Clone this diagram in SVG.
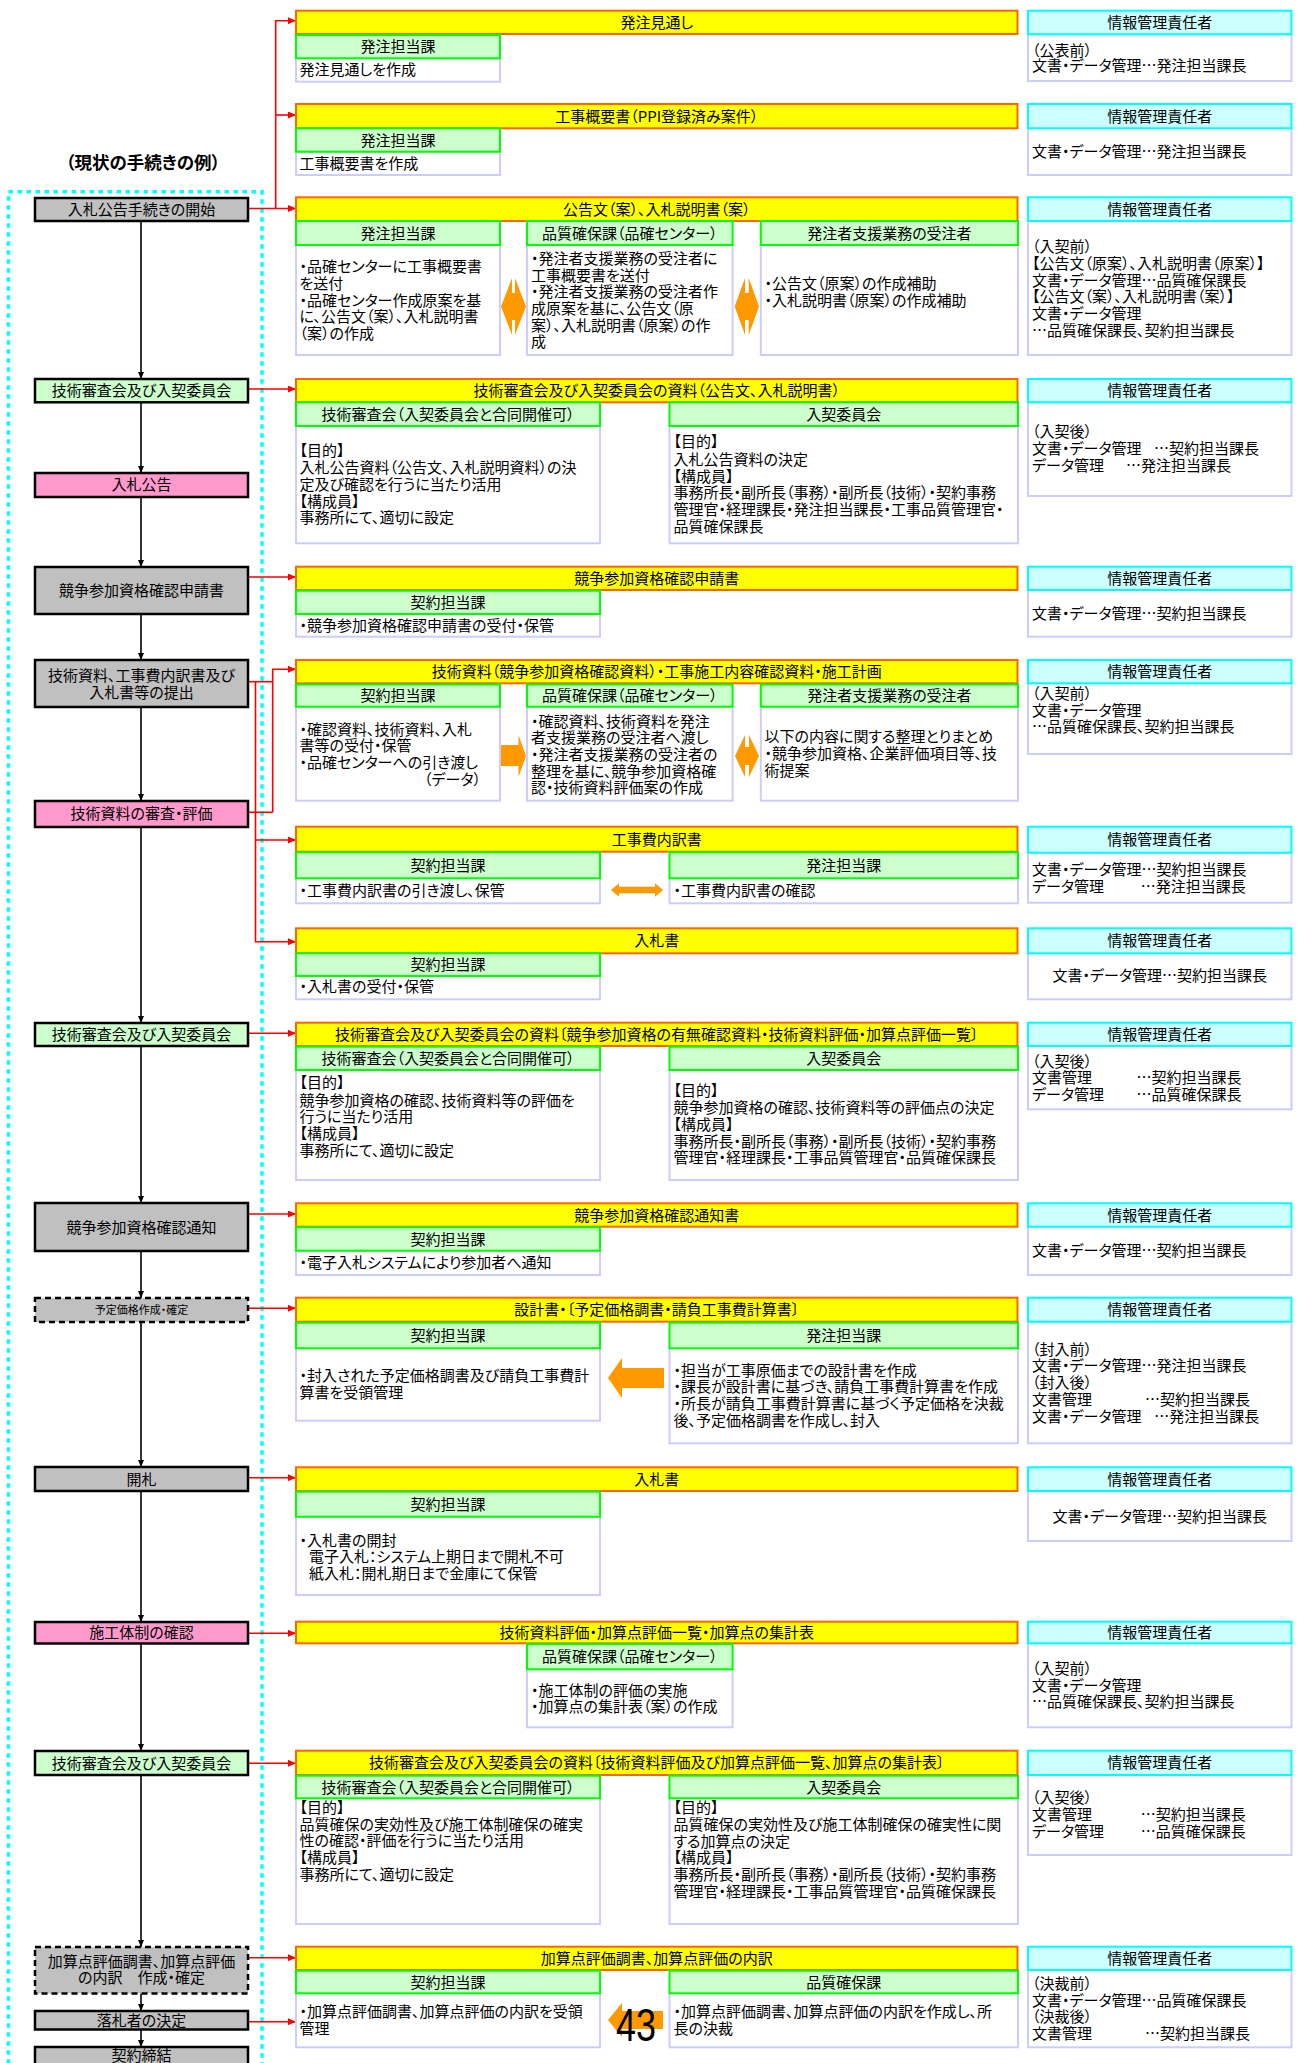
<svg xmlns="http://www.w3.org/2000/svg" width="1303" height="2063" viewBox="0 0 1303 2063">
<style>
.y{fill:#FFFF00;stroke:#FF6600;stroke-width:2}
.g{fill:#CCFFCC;stroke:#00FF00;stroke-width:2}
.w{fill:#FFFFFF;stroke:#CCCCFF;stroke-width:2}
.c{fill:#CCFFFF;stroke:#00FFFF;stroke-width:2}
.ng{fill:#C0C0C0;stroke:#000;stroke-width:2.5}
.nl{fill:#CCFFCC;stroke:#000;stroke-width:2.5}
.np{fill:#FF99CC;stroke:#000;stroke-width:2.5}
.nd{fill:#C0C0C0;stroke:#000;stroke-width:2.5;stroke-dasharray:6 4}
.o{fill:#FF9900}
text{font-family:"Noto Sans CJK JP","Noto Sans CJK SC",sans-serif;font-size:15px;fill:#000;font-feature-settings:"palt"}
.m{text-anchor:middle}
.e{text-anchor:end}
.r{stroke:#FF0000;stroke-width:1.6;fill:none}
.k{stroke:#000;stroke-width:1.6;fill:none}
</style>
<defs>
<marker id="ra" markerUnits="userSpaceOnUse" markerWidth="8" markerHeight="7" refX="8" refY="3.5" orient="auto"><path d="M0,0 L8,3.5 L0,7 z" fill="#FF0000"/></marker>
<marker id="ka" markerUnits="userSpaceOnUse" markerWidth="7" markerHeight="6" refX="7" refY="3" orient="auto"><path d="M0,0 L7,3 L0,6 z" fill="#000"/></marker>
</defs>
<rect width="1303" height="2063" fill="#FFFFFF"/>

<text x="143" y="169" class="m" style="font-weight:bold;font-size:17.5px">（現状の手続きの例）</text>
<rect x="8.5" y="191.7" width="253.5" height="1920" fill="none" stroke="#00FFFF" stroke-width="3.5" stroke-dasharray="4.5 4.5"/>

<g id="connectors">
<line class="k" x1="141" y1="221" x2="141" y2="379" marker-end="url(#ka)"/>
<line class="k" x1="141" y1="402.5" x2="141" y2="473" marker-end="url(#ka)"/>
<line class="k" x1="141" y1="497" x2="141" y2="567" marker-end="url(#ka)"/>
<line class="k" x1="141" y1="614" x2="141" y2="660" marker-end="url(#ka)"/>
<line class="k" x1="141" y1="707" x2="141" y2="801" marker-end="url(#ka)"/>
<line class="k" x1="141" y1="827" x2="141" y2="1023" marker-end="url(#ka)"/>
<line class="k" x1="141" y1="1046" x2="141" y2="1203" marker-end="url(#ka)"/>
<line class="k" x1="141" y1="1251" x2="141" y2="1298" marker-end="url(#ka)"/>
<line class="k" x1="141" y1="1322" x2="141" y2="1467" marker-end="url(#ka)"/>
<line class="k" x1="141" y1="1491" x2="141" y2="1622" marker-end="url(#ka)"/>
<line class="k" x1="141" y1="1643.5" x2="141" y2="1751" marker-end="url(#ka)"/>
<line class="k" x1="141" y1="1775" x2="141" y2="1947" marker-end="url(#ka)"/>
<line class="k" x1="141" y1="1993.5" x2="141" y2="2011" marker-end="url(#ka)"/>
<line class="k" x1="141" y1="2029.5" x2="141" y2="2047" marker-end="url(#ka)"/>

<line class="r" x1="248" y1="208.5" x2="296" y2="208.5" marker-end="url(#ra)"/>
<polyline class="r" points="275.7,208.5 275.7,20.7 296,20.7" marker-end="url(#ra)"/>
<line class="r" x1="275.7" y1="115" x2="296" y2="115" marker-end="url(#ra)"/>
<line class="r" x1="248" y1="389" x2="296" y2="389" marker-end="url(#ra)"/>
<line class="r" x1="248" y1="577" x2="296" y2="577" marker-end="url(#ra)"/>
<line class="r" x1="248" y1="681.7" x2="272.7" y2="681.7"/>
<polyline class="r" points="272.7,812.3 272.7,669.3 296,669.3" marker-end="url(#ra)"/>
<line class="r" x1="248" y1="812.3" x2="272.7" y2="812.3"/>
<polyline class="r" points="255.5,681.7 255.5,941.7 296,941.7" marker-end="url(#ra)"/>
<line class="r" x1="255.5" y1="840" x2="296" y2="840" marker-end="url(#ra)"/>
<line class="r" x1="248" y1="1033.3" x2="296" y2="1033.3" marker-end="url(#ra)"/>
<line class="r" x1="248" y1="1214" x2="296" y2="1214" marker-end="url(#ra)"/>
<line class="r" x1="248" y1="1308.3" x2="296" y2="1308.3" marker-end="url(#ra)"/>
<line class="r" x1="248" y1="1477.7" x2="296" y2="1477.7" marker-end="url(#ra)"/>
<line class="r" x1="248" y1="1633.3" x2="296" y2="1633.3" marker-end="url(#ra)"/>
<line class="r" x1="248" y1="1763.3" x2="296" y2="1763.3" marker-end="url(#ra)"/>
<line class="r" x1="248" y1="1957.7" x2="296" y2="1957.7" marker-end="url(#ra)"/>
<line class="r" x1="248" y1="2021.7" x2="296" y2="2021.7" marker-end="url(#ra)"/>
</g>

<g id="node-start"><rect class="ng" x="35" y="198" width="213" height="23"/><text class="m" x="141.5" y="215">入札公告手続きの開始</text></g>
<g id="node-shinsa1"><rect class="nl" x="35" y="379" width="213" height="23.3"/><text class="m" x="141.5" y="396.2">技術審査会及び入契委員会</text></g>
<g id="node-koukoku"><rect class="np" x="35" y="473" width="213" height="24"/><text class="m" x="141.5" y="490.2">入札公告</text></g>
<g id="node-shinsei"><rect class="ng" x="35" y="567" width="213" height="47"/><text class="m" x="141.5" y="595.8">競争参加資格確認申請書</text></g>
<g id="node-teishutsu"><rect class="ng" x="35" y="660" width="213" height="47"/><text class="m" x="141.5" y="680.5">技術資料、工事費内訳書及び</text><text class="m" x="141.5" y="697.8">入札書等の提出</text></g>
<g id="node-hyoka"><rect class="np" x="35" y="801" width="213" height="26"/><text class="m" x="141.5" y="819.3">技術資料の審査・評価</text></g>
<g id="node-shinsa2"><rect class="nl" x="35" y="1023" width="213" height="23"/><text class="m" x="141.5" y="1039.8">技術審査会及び入契委員会</text></g>
<g id="node-tsuchi"><rect class="ng" x="35" y="1203" width="213" height="48"/><text class="m" x="141.5" y="1232.5">競争参加資格確認通知</text></g>
<g id="node-yotei"><rect class="nd" x="35" y="1298" width="213" height="24"/><text class="m" x="141.5" y="1313.7" style="font-size:11px">予定価格作成・確定</text></g>
<g id="node-kaisatsu"><rect class="ng" x="35" y="1467" width="213" height="24"/><text class="m" x="141.5" y="1484.5">開札</text></g>
<g id="node-sekou"><rect class="np" x="35" y="1622" width="213" height="21.5"/><text class="m" x="141.5" y="1638">施工体制の確認</text></g>
<g id="node-shinsa3"><rect class="nl" x="35" y="1751" width="213" height="24"/><text class="m" x="141.5" y="1768.5">技術審査会及び入契委員会</text></g>
<g id="node-kasan"><rect class="nd" x="35" y="1947" width="213" height="46.5"/><text class="m" x="141.5" y="1966.5">加算点評価調書、加算点評価</text><text class="m" x="141.5" y="1983.2">の内訳　作成・確定</text></g>
<g id="node-rakusatsu"><rect class="ng" x="35" y="2011" width="213" height="18.5"/><text class="m" x="141.5" y="2025.5">落札者の決定</text></g>
<g id="node-keiyaku"><rect class="ng" x="35" y="2047" width="213" height="30"/><text class="m" x="141.5" y="2060.5">契約締結</text></g>

<g id="s1">
<rect class="y" x="296" y="10.7" width="721.5" height="23.3"/><text class="m" x="656.75" y="27.8">発注見通し</text>
<rect class="w" x="296" y="58.3" width="204" height="23.4"/>
<rect class="g" x="296" y="35" width="204" height="23.3"/><text class="m" x="398" y="52.2">発注担当課</text>
<text x="299.5" y="74.8">発注見通しを作成</text>
<rect class="w" x="1028" y="34.3" width="263.5" height="46.7"/>
<rect class="c" x="1028" y="10.7" width="263.5" height="23.6"/><text class="m" x="1159.75" y="27.8">情報管理責任者</text>
<text x="1032" y="55.5">（公表前）</text>
<text x="1032" y="71.2">文書・データ管理…発注担当課長</text>
</g>

<g id="s2">
<rect class="y" x="296" y="104" width="721.5" height="24.3"/><text class="m" x="656.75" y="121.7">工事概要書（PPI登録済み案件）</text>
<rect class="w" x="296" y="151.7" width="204" height="23.3"/>
<rect class="g" x="296" y="128.3" width="204" height="23.4"/><text class="m" x="398" y="145.5">発注担当課</text>
<text x="299.5" y="168.8">工事概要書を作成</text>
<rect class="w" x="1028" y="128.3" width="263.5" height="46.7"/>
<rect class="c" x="1028" y="104" width="263.5" height="24.3"/><text class="m" x="1159.75" y="121.7">情報管理責任者</text>
<text x="1032" y="157.2">文書・データ管理…発注担当課長</text>
</g>

<g id="s3">
<rect class="y" x="296" y="197.3" width="721.5" height="23.7"/><text class="m" x="656.75" y="214.7">公告文（案）、入札説明書（案）</text>
<rect class="w" x="296" y="245" width="204" height="110"/>
<rect class="w" x="527" y="245" width="205.6" height="110"/>
<rect class="w" x="760.8" y="245" width="257.2" height="110"/>
<rect class="g" x="296" y="221" width="204" height="24"/><text class="m" x="398" y="238.5">発注担当課</text>
<rect class="g" x="527" y="221" width="205.6" height="24"/><text class="m" x="629.8" y="238.5">品質確保課（品確センター）</text>
<rect class="g" x="760.8" y="221" width="257.2" height="24"/><text class="m" x="889.4" y="238.5">発注者支援業務の受注者</text>
<text x="299.5" y="272.2">・品確センターに工事概要書</text>
<text x="299.5" y="288.8">を送付</text>
<text x="299.5" y="305.5">・品確センター作成原案を基</text>
<text x="299.5" y="322.2">に、公告文（案）、入札説明書</text>
<text x="299.5" y="338.8">（案）の作成</text>
<text x="531" y="263.8">・発注者支援業務の受注者に</text>
<text x="531" y="280.5">工事概要書を送付</text>
<text x="531" y="297.2">・発注者支援業務の受注者作</text>
<text x="531" y="313.8">成原案を基に、公告文（原</text>
<text x="531" y="330.5">案）、入札説明書（原案）の作</text>
<text x="531" y="347.2">成</text>
<text x="764.5" y="288.8">・公告文（原案）の作成補助</text>
<text x="764.5" y="305.5">・入札説明書（原案）の作成補助</text>
<polygon class="o" points="501,306.5 512,278 512,293 515,293 515,278 526,306.5 515,335 515,320 512,320 512,335"/>
<polygon class="o" points="734.7,306.5 745,278 745,293 748.7,293 748.7,278 759,306.5 748.7,335 748.7,320 745,320 745,335"/>
<rect class="w" x="1028" y="221" width="263.5" height="134"/>
<rect class="c" x="1028" y="197.3" width="263.5" height="23.7"/><text class="m" x="1159.75" y="214.7">情報管理責任者</text>
<text x="1032" y="252.2">（入契前）</text>
<text x="1032" y="268.8">【公告文（原案）、入札説明書（原案）】</text>
<text x="1032" y="285.5">文書・データ管理…品質確保課長</text>
<text x="1032" y="302.2">【公告文（案）、入札説明書（案）】</text>
<text x="1032" y="318.8">文書・データ管理</text>
<text x="1032" y="335.5">…品質確保課長、契約担当課長</text>
</g>

<g id="s4">
<rect class="y" x="296" y="379" width="721.5" height="23.3"/><text class="m" x="656.75" y="396.2">技術審査会及び入契委員会の資料（公告文、入札説明書）</text>
<rect class="w" x="296" y="426" width="304" height="117.3"/>
<rect class="w" x="669.5" y="426" width="348.5" height="117.3"/>
<rect class="g" x="296" y="402.3" width="304" height="23.7"/><text class="m" x="448" y="419.7">技術審査会（入契委員会と合同開催可）</text>
<rect class="g" x="669.5" y="402.3" width="348.5" height="23.7"/><text class="m" x="843.75" y="419.7">入契委員会</text>
<text x="299.5" y="455.5">【目的】</text>
<text x="299.5" y="473.2">入札公告資料（公告文、入札説明資料）の決</text>
<text x="299.5" y="489.8">定及び確認を行うに当たり活用</text>
<text x="299.5" y="506.5">【構成員】</text>
<text x="299.5" y="523.2">事務所にて、適切に設定</text>
<text x="673.5" y="447.2">【目的】</text>
<text x="673.5" y="464.8">入札公告資料の決定</text>
<text x="673.5" y="481.5">【構成員】</text>
<text x="673.5" y="498.2">事務所長・副所長（事務）・副所長（技術）・契約事務</text>
<text x="673.5" y="514.8">管理官・経理課長・発注担当課長・工事品質管理官・</text>
<text x="673.5" y="531.5">品質確保課長</text>
<rect class="w" x="1028" y="402.3" width="263.5" height="93.7"/>
<rect class="c" x="1028" y="379" width="263.5" height="23.3"/><text class="m" x="1159.75" y="396.2">情報管理責任者</text>
<text x="1032" y="437.2">（入契後）</text>
<text y="453.8"><tspan x="1032">文書・データ管理</tspan><tspan x="1154">…契約担当課長</tspan></text>
<text y="470.5"><tspan x="1032">データ管理</tspan><tspan x="1126">…発注担当課長</tspan></text>
</g>

<g id="s5">
<rect class="y" x="296" y="566.7" width="721.5" height="23.3"/><text class="m" x="656.75" y="583.8">競争参加資格確認申請書</text>
<rect class="w" x="296" y="614" width="304" height="22.7"/>
<rect class="g" x="296" y="590.7" width="304" height="23.3"/><text class="m" x="448" y="607.8">契約担当課</text>
<text x="299.5" y="630.8">・競争参加資格確認申請書の受付・保管</text>
<rect class="w" x="1028" y="590" width="263.5" height="46.7"/>
<rect class="c" x="1028" y="566.7" width="263.5" height="23.3"/><text class="m" x="1159.75" y="583.8">情報管理責任者</text>
<text x="1032" y="618.8">文書・データ管理…契約担当課長</text>
</g>

<g id="s6">
<rect class="y" x="296" y="660" width="721.5" height="23.3"/><text class="m" x="656.75" y="677.2">技術資料（競争参加資格確認資料）・工事施工内容確認資料・施工計画</text>
<rect class="w" x="296" y="706.7" width="204" height="94"/>
<rect class="w" x="527" y="706.7" width="205.6" height="94"/>
<rect class="w" x="760.8" y="706.7" width="257.2" height="94"/>
<rect class="g" x="296" y="684.5" width="204" height="22.2"/><text class="m" x="398" y="701">契約担当課</text>
<rect class="g" x="527" y="684.5" width="205.6" height="22.2"/><text class="m" x="629.8" y="701">品質確保課（品確センター）</text>
<rect class="g" x="760.8" y="684.5" width="257.2" height="22.2"/><text class="m" x="889.4" y="701">発注者支援業務の受注者</text>
<text x="299.5" y="734.8">・確認資料、技術資料、入札</text>
<text x="299.5" y="751.2">書等の受付・保管</text>
<text x="299.5" y="767.8">・品確センターへの引き渡し</text>
<text class="e" x="481" y="784.5">（データ）</text>
<text x="531" y="726.5">・確認資料、技術資料を発注</text>
<text x="531" y="743.2">者支援業務の受注者へ渡し</text>
<text x="531" y="759.8">・発注者支援業務の受注者の</text>
<text x="531" y="776.5">整理を基に、競争参加資格確</text>
<text x="531" y="793.2">認・技術資料評価案の作成</text>
<text x="764.5" y="742.2">以下の内容に関する整理とりまとめ</text>
<text x="764.5" y="758.9">・競争参加資格、企業評価項目等、技</text>
<text x="764.5" y="775.6">術提案</text>
<polygon class="o" points="501,745 518.5,745 518.5,735 526,756 518.5,777 518.5,766 501,766"/>
<polygon class="o" points="735,756 745,735 745,747 749,747 749,735 759,756 749,777 749,765 745,765 745,777"/>
<rect class="w" x="1028" y="683.3" width="263.5" height="70.7"/>
<rect class="c" x="1028" y="660" width="263.5" height="23.3"/><text class="m" x="1159.75" y="677.2">情報管理責任者</text>
<text x="1032" y="698.8">（入契前）</text>
<text x="1032" y="715.5">文書・データ管理</text>
<text x="1032" y="732.2">…品質確保課長、契約担当課長</text>
</g>

<g id="s7">
<rect class="y" x="296" y="826.7" width="721.5" height="25"/><text class="m" x="656.75" y="844.7">工事費内訳書</text>
<rect class="w" x="296" y="878.3" width="304" height="25"/>
<rect class="w" x="669.5" y="878.3" width="348.5" height="25"/>
<rect class="g" x="296" y="852.3" width="304" height="26"/><text class="m" x="448" y="870.8">契約担当課</text>
<rect class="g" x="669.5" y="852.3" width="348.5" height="26"/><text class="m" x="843.75" y="870.8">発注担当課</text>
<text x="299.5" y="896">・工事費内訳書の引き渡し、保管</text>
<text x="673.5" y="896">・工事費内訳書の確認</text>
<polygon class="o" points="611,890 619,883.3 619,886.7 655,886.7 655,883.3 663,890 655,896.7 655,893.3 619,893.3 619,896.7"/>
<rect class="w" x="1028" y="852.7" width="263.5" height="50"/>
<rect class="c" x="1028" y="826.7" width="263.5" height="26"/><text class="m" x="1159.75" y="845.2">情報管理責任者</text>
<text x="1032" y="874.8">文書・データ管理…契約担当課長</text>
<text y="891.5"><tspan x="1032">データ管理</tspan><tspan x="1140.8">…発注担当課長</tspan></text>
</g>

<g id="s8">
<rect class="y" x="296" y="928.3" width="721.5" height="25"/><text class="m" x="656.75" y="946.3">入札書</text>
<rect class="w" x="296" y="976" width="304" height="23.3"/>
<rect class="g" x="296" y="953.3" width="304" height="22.7"/><text class="m" x="448" y="970.2">契約担当課</text>
<text x="299.5" y="992.2">・入札書の受付・保管</text>
<rect class="w" x="1028" y="953.3" width="263.5" height="46"/>
<rect class="c" x="1028" y="928.3" width="263.5" height="25"/><text class="m" x="1159.75" y="946.3">情報管理責任者</text>
<text class="m" x="1159.75" y="980.5">文書・データ管理…契約担当課長</text>
</g>

<g id="s9">
<rect class="y" x="296" y="1022.7" width="721.5" height="23.3"/><text class="m" x="656.75" y="1039.8">技術審査会及び入契委員会の資料〔競争参加資格の有無確認資料・技術資料評価・加算点評価一覧〕</text>
<rect class="w" x="296" y="1070" width="304" height="110"/>
<rect class="w" x="669.5" y="1070" width="348.5" height="110"/>
<rect class="g" x="296" y="1046.7" width="304" height="23.3"/><text class="m" x="448" y="1063.8">技術審査会（入契委員会と合同開催可）</text>
<rect class="g" x="669.5" y="1046.7" width="348.5" height="23.3"/><text class="m" x="843.75" y="1063.8">入契委員会</text>
<text x="299.5" y="1088.2">【目的】</text>
<text x="299.5" y="1105.5">競争参加資格の確認、技術資料等の評価を</text>
<text x="299.5" y="1122.2">行うに当たり活用</text>
<text x="299.5" y="1138.8">【構成員】</text>
<text x="299.5" y="1155.5">事務所にて、適切に設定</text>
<text x="673.5" y="1095.5">【目的】</text>
<text x="673.5" y="1113.2">競争参加資格の確認、技術資料等の評価点の決定</text>
<text x="673.5" y="1129.8">【構成員】</text>
<text x="673.5" y="1146.5">事務所長・副所長（事務）・副所長（技術）・契約事務</text>
<text x="673.5" y="1163.2">管理官・経理課長・工事品質管理官・品質確保課長</text>
<rect class="w" x="1028" y="1046" width="263.5" height="63.3"/>
<rect class="c" x="1028" y="1022.7" width="263.5" height="23.3"/><text class="m" x="1159.75" y="1039.8">情報管理責任者</text>
<text x="1032" y="1066.5">（入契後）</text>
<text y="1083.2"><tspan x="1032">文書管理</tspan><tspan x="1136.6">…契約担当課長</tspan></text>
<text y="1099.8"><tspan x="1032">データ管理</tspan><tspan x="1136.6">…品質確保課長</tspan></text>
</g>

<g id="s10">
<rect class="y" x="296" y="1203.3" width="721.5" height="23.4"/><text class="m" x="656.75" y="1220.5">競争参加資格確認通知書</text>
<rect class="w" x="296" y="1250.7" width="304" height="24.3"/>
<rect class="g" x="296" y="1227.3" width="304" height="23.4"/><text class="m" x="448" y="1244.5">契約担当課</text>
<text x="299.5" y="1268.2">・電子入札システムにより参加者へ通知</text>
<rect class="w" x="1028" y="1226.7" width="263.5" height="48.3"/>
<rect class="c" x="1028" y="1203.3" width="263.5" height="23.4"/><text class="m" x="1159.75" y="1220.5">情報管理責任者</text>
<text x="1032" y="1255.5">文書・データ管理…契約担当課長</text>
</g>

<g id="s11">
<rect class="y" x="296" y="1297.7" width="721.5" height="24"/><text class="m" x="656.75" y="1315.2">設計書・〔予定価格調書・請負工事費計算書〕</text>
<rect class="w" x="296" y="1348.3" width="304" height="72.4"/>
<rect class="w" x="669.5" y="1348.3" width="348.5" height="95"/>
<rect class="g" x="296" y="1322.7" width="304" height="25.6"/><text class="m" x="448" y="1341">契約担当課</text>
<rect class="g" x="669.5" y="1322.7" width="348.5" height="25.6"/><text class="m" x="843.75" y="1341">発注担当課</text>
<text x="299.5" y="1380.5">・封入された予定価格調書及び請負工事費計</text>
<text x="299.5" y="1397.8">算書を受領管理</text>
<text x="673.5" y="1375.5">・担当が工事原価までの設計書を作成</text>
<text x="673.5" y="1392.2">・課長が設計書に基づき、請負工事費計算書を作成</text>
<text x="673.5" y="1408.8">・所長が請負工事費計算書に基づく予定価格を決裁</text>
<text x="673.5" y="1425.5">後、予定価格調書を作成し、封入</text>
<polygon class="o" points="608,1378 622,1358 622,1368 664,1368 664,1388 622,1388 622,1398"/>
<rect class="w" x="1028" y="1321.7" width="263.5" height="121.6"/>
<rect class="c" x="1028" y="1297.7" width="263.5" height="24"/><text class="m" x="1159.75" y="1315.2">情報管理責任者</text>
<text x="1032" y="1354.5">（封入前）</text>
<text x="1032" y="1370.8">文書・データ管理…発注担当課長</text>
<text x="1032" y="1388.2">（封入後）</text>
<text y="1404.8"><tspan x="1032">文書管理</tspan><tspan x="1145">…契約担当課長</tspan></text>
<text y="1421.5"><tspan x="1032">文書・データ管理</tspan><tspan x="1154.3">…発注担当課長</tspan></text>
</g>

<g id="s12">
<rect class="y" x="296" y="1467.3" width="721.5" height="23.7"/><text class="m" x="656.75" y="1484.7">入札書</text>
<rect class="w" x="296" y="1516.7" width="304" height="78.3"/>
<rect class="g" x="296" y="1491.7" width="304" height="25"/><text class="m" x="448" y="1509.7">契約担当課</text>
<text x="299.5" y="1545.5">・入札書の開封</text>
<text x="309" y="1562.2">電子入札：システム上期日まで開札不可</text>
<text x="309" y="1578.8">紙入札：開札期日まで金庫にて保管</text>
<rect class="w" x="1028" y="1491" width="263.5" height="50"/>
<rect class="c" x="1028" y="1467.3" width="263.5" height="23.7"/><text class="m" x="1159.75" y="1484.7">情報管理責任者</text>
<text class="m" x="1159.75" y="1521.5">文書・データ管理…契約担当課長</text>
</g>

<g id="s13">
<rect class="y" x="296" y="1621.7" width="721.5" height="21.6"/><text class="m" x="656.75" y="1638">技術資料評価・加算点評価一覧・加算点の集計表</text>
<rect class="w" x="527" y="1669.3" width="205.6" height="58"/>
<rect class="g" x="527" y="1644" width="205.6" height="25.3"/><text class="m" x="629.8" y="1662.2">品質確保課（品確センター）</text>
<text x="531" y="1695.5">・施工体制の評価の実施</text>
<text x="531" y="1712.2">・加算点の集計表（案）の作成</text>
<rect class="w" x="1028" y="1643.3" width="263.5" height="84"/>
<rect class="c" x="1028" y="1621.7" width="263.5" height="21.6"/><text class="m" x="1159.75" y="1638">情報管理責任者</text>
<text x="1032" y="1673.8">（入契前）</text>
<text x="1032" y="1690.5">文書・データ管理</text>
<text x="1032" y="1707.2">…品質確保課長、契約担当課長</text>
</g>

<g id="s14">
<rect class="y" x="296" y="1750.7" width="721.5" height="24.3"/><text class="m" x="656.75" y="1768.4">技術審査会及び入契委員会の資料〔技術資料評価及び加算点評価一覧、加算点の集計表〕</text>
<rect class="w" x="296" y="1798.3" width="304" height="125.7"/>
<rect class="w" x="669.5" y="1798.3" width="348.5" height="125.7"/>
<rect class="g" x="296" y="1775.7" width="304" height="22.6"/><text class="m" x="448" y="1792.5">技術審査会（入契委員会と合同開催可）</text>
<rect class="g" x="669.5" y="1775.7" width="348.5" height="22.6"/><text class="m" x="843.75" y="1792.5">入契委員会</text>
<text x="299.5" y="1812.8">【目的】</text>
<text x="299.5" y="1829.5">品質確保の実効性及び施工体制確保の確実</text>
<text x="299.5" y="1846.2">性の確認・評価を行うに当たり活用</text>
<text x="299.5" y="1862.8">【構成員】</text>
<text x="299.5" y="1879.5">事務所にて、適切に設定</text>
<text x="673.5" y="1813.2">【目的】</text>
<text x="673.5" y="1829.8">品質確保の実効性及び施工体制確保の確実性に関</text>
<text x="673.5" y="1846.5">する加算点の決定</text>
<text x="673.5" y="1863.2">【構成員】</text>
<text x="673.5" y="1879.8">事務所長・副所長（事務）・副所長（技術）・契約事務</text>
<text x="673.5" y="1896.5">管理官・経理課長・工事品質管理官・品質確保課長</text>
<rect class="w" x="1028" y="1775" width="263.5" height="80"/>
<rect class="c" x="1028" y="1750.7" width="263.5" height="24.3"/><text class="m" x="1159.75" y="1768.4">情報管理責任者</text>
<text x="1032" y="1803.2">（入契後）</text>
<text y="1819.8"><tspan x="1032">文書管理</tspan><tspan x="1140.8">…契約担当課長</tspan></text>
<text y="1836.5"><tspan x="1032">データ管理</tspan><tspan x="1140.8">…品質確保課長</tspan></text>
</g>

<g id="s15">
<rect class="y" x="296" y="1946.7" width="721.5" height="23.3"/><text class="m" x="656.75" y="1963.8">加算点評価調書、加算点評価の内訳</text>
<rect class="w" x="296" y="1993.3" width="304" height="54"/>
<rect class="w" x="669.5" y="1993.3" width="348.5" height="54"/>
<rect class="g" x="296" y="1970.7" width="304" height="22.6"/><text class="m" x="448" y="1987.5">契約担当課</text>
<rect class="g" x="669.5" y="1970.7" width="348.5" height="22.6"/><text class="m" x="843.75" y="1987.5">品質確保課</text>
<text x="299.5" y="2017.2">・加算点評価調書、加算点評価の内訳を受領</text>
<text x="299.5" y="2033.8">管理</text>
<text x="673.5" y="2017.2">・加算点評価調書、加算点評価の内訳を作成し、所</text>
<text x="673.5" y="2033.8">長の決裁</text>
<polygon class="o" points="608,2020 622,2003 622,2011 663,2011 663,2029 622,2029 622,2037"/>
<text x="616" y="2041" style="font-family:'Liberation Sans',sans-serif;font-size:46px" textLength="40" lengthAdjust="spacingAndGlyphs">43</text>
<rect class="w" x="1028" y="1970" width="263.5" height="77.3"/>
<rect class="c" x="1028" y="1946.7" width="263.5" height="23.3"/><text class="m" x="1159.75" y="1963.8">情報管理責任者</text>
<text x="1032" y="1988.8">（決裁前）</text>
<text x="1032" y="2005.5">文書・データ管理…品質確保課長</text>
<text x="1032" y="2022.2">（決裁後）</text>
<text y="2038.8"><tspan x="1032">文書管理</tspan><tspan x="1145">…契約担当課長</tspan></text>
</g>
</svg>
